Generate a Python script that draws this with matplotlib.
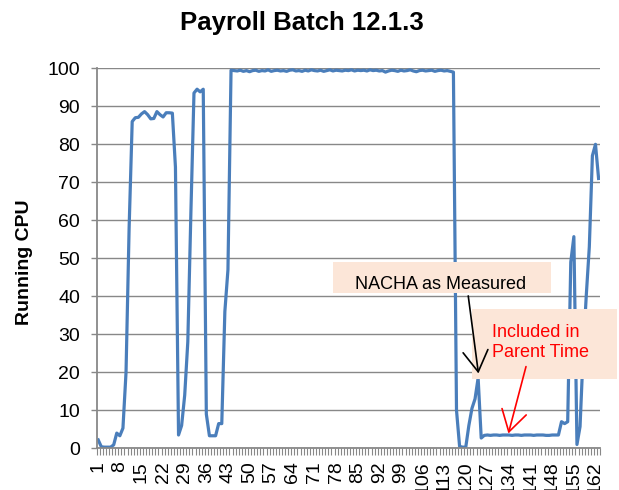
import numpy as np
import matplotlib.pyplot as plt
from matplotlib.patches import Rectangle
from matplotlib.ticker import FixedLocator

plt.rcParams['font.family'] = ['Liberation Sans', 'DejaVu Sans']

# running CPU per sample (163 samples)
cpu = [
    2.2, 0.4, 0.3, 0.3, 0.3, 0.9, 4.0, 3.3, 5.3, 20.0,
    58.0, 86.0, 87.0, 87.1, 88.0, 88.6, 87.8, 86.7, 86.8, 88.6,
    87.8, 87.2, 88.3, 88.3, 88.2, 74.0, 3.5, 6.0, 14.0, 28.0,
    62.0, 93.5, 94.5, 93.8, 94.5, 9.0, 3.3, 3.3, 3.3, 6.5,
    6.5, 36.0, 47.0, 99.5, 99.4, 99.3, 99.5, 99.2, 99.4, 99.1,
    99.4, 99.5, 99.2, 99.4, 99.3, 99.6, 99.2, 99.4, 99.5, 99.3,
    99.4, 99.2, 99.5, 99.6, 99.3, 99.4, 99.2, 99.5, 99.3, 99.6,
    99.4, 99.3, 99.5, 99.2, 99.4, 99.6, 99.3, 99.5, 99.4, 99.3,
    99.5, 99.4, 99.6, 99.3, 99.5, 99.4, 99.5, 99.3, 99.6, 99.4,
    99.5, 99.3, 99.4, 99.0, 99.3, 99.5, 99.4, 99.2, 99.5, 99.3,
    99.4, 99.6, 99.3, 99.1, 99.4, 99.5, 99.3, 99.4, 99.5, 99.2,
    99.4, 99.5, 99.3, 99.4, 99.2, 99.0, 10.0, 0.5, 0.3, 0.3,
    6.0, 10.5, 13.0, 18.5, 2.7, 3.4, 3.5, 3.4, 3.5, 3.5,
    3.4, 3.5, 3.5, 3.5, 3.4, 3.5, 3.5, 3.4, 3.5, 3.5,
    3.5, 3.4, 3.5, 3.5, 3.5, 3.4, 3.4, 3.5, 3.5, 3.5,
    7.0, 6.5, 7.0, 49.0, 55.7, 1.0, 5.7, 25.0, 40.0, 53.0,
    77.0, 80.0, 71.0,
]
samples = np.arange(1, len(cpu) + 1)
x_labels = list(range(1, 163, 7))
y_ticks = list(range(0, 101, 10))

grey = '#888888'
peach = '#FCE6D8'

fig = plt.figure(figsize=(6.19, 4.9), dpi=100)
ax = fig.add_axes([0.1562, 0.0851, 0.8133, 0.7755])

ax.plot(samples, cpu, color='#4A7EBB', lw=2.3, zorder=2, solid_joinstyle='round')

ax.set_xlim(0.5, len(cpu) + 0.5)
ax.set_ylim(0, 100)
ax.set_yticks(y_ticks)
ax.set_xticks(x_labels)
ax.set_xticklabels([str(v) for v in x_labels], rotation=90)
ax.xaxis.set_minor_locator(FixedLocator(np.arange(0.5, len(cpu) + 1, 1)))

ax.grid(axis='y', color=grey, lw=1.0, zorder=0)
ax.set_axisbelow(True)
for s in ['top', 'right']:
    ax.spines[s].set_visible(False)
for s in ['left', 'bottom']:
    ax.spines[s].set_color(grey)
    ax.spines[s].set_linewidth(1.3)

ax.tick_params(axis='y', length=4.6, width=1.0, color=grey, pad=7.5, labelsize=14)
ax.tick_params(axis='x', which='major', length=0, pad=9.5, labelsize=14)
ax.tick_params(axis='x', which='minor', length=4.8, width=0.8, color=grey)

# callout boxes
ax.add_patch(Rectangle((76.9, 40.8), 70.6, 8.3, facecolor=peach, edgecolor='none',
                       zorder=3, clip_on=False))
ax.text(111.8, 41.8, 'NACHA as Measured', ha='center', va='baseline',
        fontsize=13, color='black', zorder=4)

ax.add_patch(Rectangle((121.9, 18.2), 47.0, 18.4, facecolor=peach, edgecolor='none',
                       zorder=3, clip_on=False))
ax.text(128.4, 29.2, 'Included in', ha='left', va='baseline', fontsize=13,
        color='red', zorder=4, clip_on=False)
ax.text(128.4, 23.9, 'Parent Time', ha='left', va='baseline', fontsize=13,
        color='red', zorder=4, clip_on=False)

ax.annotate('', xy=(124.1, 19.7), xytext=(120.8, 40.1), zorder=5,
            arrowprops=dict(arrowstyle='->,head_length=0.75,head_width=0.45',
                            mutation_scale=20, color='black', lw=1.2,
                            shrinkA=0, shrinkB=0))
ax.annotate('', xy=(133.8, 3.9), xytext=(139.5, 21.5), zorder=5,
            arrowprops=dict(arrowstyle='->,head_length=0.75,head_width=0.45',
                            mutation_scale=20, color='red', lw=1.2,
                            shrinkA=0, shrinkB=0))

fig.text(0.487, 0.939, 'Payroll Batch 12.1.3', ha='center', va='baseline',
         fontsize=18.5, fontweight='bold')
fig.text(0.040, 0.464, 'Running CPU', rotation=90, ha='center', va='center',
         fontsize=14, fontweight='bold')

fig.savefig('out.png', dpi=100)
